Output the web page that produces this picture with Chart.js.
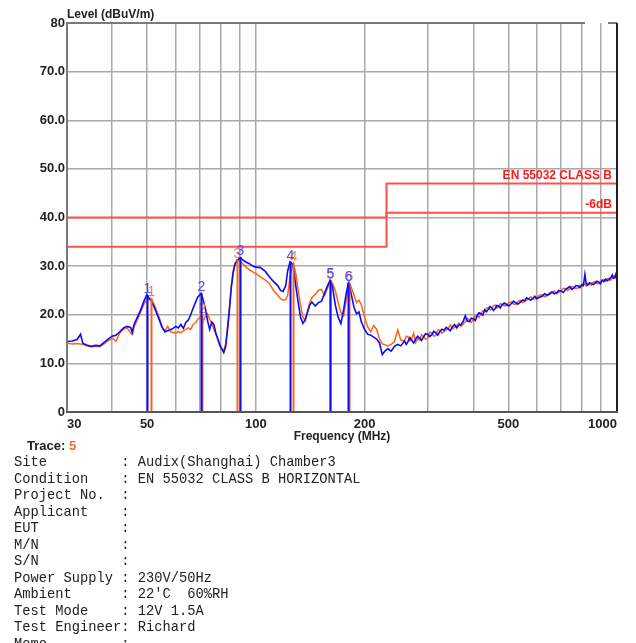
<!DOCTYPE html>
<html>
<head>
<meta charset="utf-8">
<script src="https://cdn.jsdelivr.net/npm/chart.js@4.4.1/dist/chart.umd.min.js"></script>
<style>
  html, body { margin:0; padding:0; background:#fff; }
  #wrap { position:relative; width:636px; height:643px; overflow:hidden; }
  #c { position:absolute; left:0; top:0; }
  #trace { position:absolute; left:27px; top:438px; font:bold 13px "Liberation Sans", Arial, sans-serif; color:#222; line-height:16px; }
  #trace span { color:#ff6a1a; }
  #info { position:absolute; left:14px; top:455px; margin:0; font:13.75px "Liberation Mono", "Courier New", monospace; line-height:16.5px; color:#222; white-space:pre; }
</style>
</head>
<body>
<div id="wrap">
<canvas id="c" width="636" height="455"></canvas>
<div id="trace">Trace: <span>5</span></div>
<pre id="info"></pre>
</div>
<script>
// ---------- data ----------
const freqs = [
  30,31,32,32.7,33.2,34,35,36,37,38,
  39,40,41,42,43,44,45,45.5,46,47,
  48,49,49.9,50.5,51.2,52,53,54,55,56,
  57,58,59,60,61,62,63,64,65,66,
  67,68,69,70.6,71.5,72.5,73.5,74.5,75.5,76.5,
  77.5,78.5,79.5,80.5,81.5,82.5,83.5,84.5,85.5,86.5,
  87.5,88.7,90.4,92,94,96,98,100,103,106,
  109,112,115,117,119,121,122.5,124.4,126,127,
  129,131,133,135,137,139,141,143,146,149,
  152,155,158,160.5,163,166,169,172,175,178,
  180.4,181.6,184,187,190,193,196,200,204,208,
  212,216,220,224,228,232,237,242,247,252,
  258,261,264,267,270,273.5,277,280.5,284,287.5,
  291,295,299,303,307,311,315,319,323,327.5,
  332,336.5,341,345.5,350,355,360,365,370,375,
  380,385,390,395,400,405,410,415,420,425,
  430,435,440,445,450,455,460,465,470,475,
  480,487,495,502,510,517,525,532,540,547,
  555,562,570,577,585,592,600,610,620,630,
  640,650,660,670,680,690,700,710,720,730,
  740,750,760,770,780,790,800,807,815,822,
  830,840,850,860,870,880,890,900,910,920,
  930,940,950,960,970,977,985,992,1000
];
const blueLevel = [
  14.5,14.6,14.9,16.0,14.1,13.8,13.5,13.7,13.6,14.3,
  15.0,15.6,15.8,16.5,17.3,17.6,17.4,16.4,18.0,19.5,
  21.0,22.8,24.1,23.5,22.9,22.0,20.5,19.0,17.4,16.5,
  16.7,16.9,17.2,17.6,17.3,18.0,17.2,18.4,18.9,20.0,
  21.3,22.5,23.6,24.4,23.0,21.2,18.8,17.0,18.5,18.0,
  16.2,15.0,13.8,13.0,12.2,13.5,17.0,21.0,25.5,28.5,
  30.3,31.0,31.8,31.3,30.8,30.5,30.0,29.8,29.7,29.0,
  27.8,26.8,26.0,25.0,24.8,26.0,29.0,30.9,30.5,29.8,
  26.0,22.5,19.5,18.2,19.0,20.5,22.0,22.6,21.8,22.5,
  22.8,24.4,26.0,27.1,25.8,22.0,19.5,18.2,21.0,24.5,
  26.5,26.0,24.0,21.5,20.2,20.6,18.5,17.0,16.0,15.8,
  15.4,15.0,14.2,11.8,12.6,13.0,12.5,13.5,13.9,13.6,
  14.6,13.9,14.5,15.3,14.8,14.2,15.0,15.6,15.2,14.7,
  15.4,16.1,16.0,15.5,15.9,16.6,16.3,15.8,16.5,17.0,
  16.8,17.4,17.1,16.7,17.5,18.0,17.3,17.9,18.0,18.6,
  19.8,18.7,18.6,19.3,19.2,18.8,19.8,20.4,20.2,19.9,
  21.0,20.6,21.1,21.7,21.4,20.9,21.3,21.9,21.8,21.4,
  22.0,22.4,22.1,21.8,22.3,22.8,22.4,22.2,22.6,23.0,
  22.9,23.5,23.2,23.0,23.4,23.8,23.3,23.6,23.8,24.3,
  24.0,24.2,24.7,24.3,24.5,25.0,24.9,24.6,25.2,25.5,
  25.8,25.2,25.5,26.0,25.9,25.6,26.2,26.0,28.3,26.3,
  26.1,26.6,26.4,26.2,26.5,26.9,26.7,26.4,27.1,26.8,
  27.3,27.0,27.2,27.6,28.2,27.5,27.6,28.3,27.4
];
const orangeLevel = [
  14.2,14.0,14.1,14.0,13.9,13.6,13.4,13.5,13.4,14.0,
  14.6,15.2,14.6,16.2,17.0,17.3,16.3,15.9,17.5,19.0,
  20.6,22.2,23.0,23.3,23.4,22.5,21.0,19.5,17.6,16.6,
  17.6,16.5,16.4,16.2,16.6,16.3,16.7,17.0,17.3,17.0,
  18.0,18.3,19.0,19.9,18.7,19.6,20.2,19.0,18.3,17.0,
  16.0,14.8,13.6,12.9,12.6,14.0,17.5,21.5,26.0,29.0,
  30.6,31.3,31.0,30.5,29.8,29.2,28.8,28.5,27.8,27.2,
  26.4,25.0,24.0,23.3,23.0,23.1,24.0,28.0,29.8,30.6,
  28.5,25.0,22.0,19.5,18.8,20.8,22.5,23.5,24.2,25.0,
  25.2,24.0,25.5,27.0,26.5,25.0,22.5,20.5,19.8,23.0,
  26.0,26.6,25.5,24.0,22.5,23.0,22.0,19.5,17.5,16.5,
  17.8,17.0,15.0,14.0,13.8,13.6,13.9,14.5,16.9,14.8,
  14.6,15.6,15.4,14.6,15.0,16.2,14.3,15.1,14.8,15.9,
  15.5,15.0,15.2,16.4,16.3,15.6,15.7,16.9,16.8,16.2,
  16.5,16.9,17.2,17.9,17.1,17.4,17.8,18.3,17.6,18.1,
  18.5,19.3,18.9,18.4,19.0,19.8,19.7,19.4,20.3,20.8,
  20.7,21.3,21.5,21.0,21.2,21.9,22.0,21.4,21.6,22.3,
  22.2,21.8,21.9,22.5,22.6,22.2,22.1,22.8,22.9,22.5,
  22.7,23.0,23.4,23.7,23.2,23.3,23.6,24.0,24.1,23.7,
  23.9,24.5,24.5,24.9,24.3,24.6,25.0,25.4,25.4,25.0,
  25.3,25.8,25.7,25.4,25.5,26.1,25.9,26.4,26.2,25.9,
  26.5,26.2,26.1,26.7,26.8,26.4,26.4,26.9,27.0,27.3,
  26.9,27.4,27.5,27.1,27.7,27.9,28.0,27.6,27.3
];
// limit lines
const limitFreq = [30, 230, 230, 1000];
const limitClassB = [40, 40, 47, 47];
const limitMinus6 = [34, 34, 41, 41];
// markers
const blueMarkerFreq = [49.9, 70.6, 90.4, 124.4, 160.5, 180.4];
const blueMarkerLevel = [24.1, 24.4, 31.8, 30.9, 27.1, 26.5];
const orangeMarkerFreq = [51.2, 71.0, 88.7, 127.0, 160.5, 181.6];
const orangeMarkerLevel = [23.4, 19.9, 31.3, 30.6, 27.0, 26.6];
const markerNames = ['1','2','3','4','5','6'];
// ticks
const gridFreqs = [30,40,50,60,70,80,90,100,200,300,400,500,600,700,800,900,1000];
const labeledFreqs = [30,50,100,200,500,1000];
const yTicks = [0,10,20,30,40,50,60,70,80];

const infoLines = [
  "Site         : Audix(Shanghai) Chamber3",
  "Condition    : EN 55032 CLASS B HORIZONTAL",
  "Project No.  :",
  "Applicant    :",
  "EUT          :",
  "M/N          :",
  "S/N          :",
  "Power Supply : 230V/50Hz",
  "Ambient      : 22'C  60%RH",
  "Test Mode    : 12V 1.5A",
  "Test Engineer: Richard",
  "Memo         :"
];
document.getElementById('info').textContent = infoLines.join('\n');

// ---------- chart ----------
const BLUE = '#0a0aff';
const ORANGE = '#ff6410';
const RED = '#ff5050';
const FONT = '"Liberation Sans", Arial, sans-serif';

const pts = (xs, ys) => xs.map((x, i) => ({x, y: ys[i]}));

const overlay = {
  id: 'overlay',
  afterDatasetsDraw(chart) {
    const {ctx, scales: {x, y}, chartArea: a} = chart;
    ctx.save();
    const y0 = y.getPixelForValue(0);
    const drawMarkers = (fs, ls, lineColor, textColor) => {
      fs.forEach((f, i) => {
        const px = Math.round(x.getPixelForValue(f)) + 0.5;
        const py = y.getPixelForValue(ls[i]);
        ctx.strokeStyle = lineColor;
        ctx.lineWidth = 2;
        ctx.beginPath();
        ctx.moveTo(px, y0);
        ctx.lineTo(px, py);
        ctx.stroke();
        ctx.fillStyle = textColor;
        ctx.font = '14px ' + FONT;
        ctx.textAlign = 'center';
        ctx.textBaseline = 'bottom';
        ctx.fillText(markerNames[i], px, py + 1);
      });
    };
    drawMarkers(orangeMarkerFreq, orangeMarkerLevel, ORANGE, '#ff7a3a');
    drawMarkers(blueMarkerFreq, blueMarkerLevel, BLUE, '#4a4aff');
    // limit labels
    ctx.fillStyle = '#ff1a1a';
    ctx.font = 'bold 12px ' + FONT;
    ctx.textAlign = 'right';
    ctx.textBaseline = 'bottom';
    ctx.fillText('EN 55032 CLASS B', a.right - 5, y.getPixelForValue(limitClassB[3]) - 2);
    ctx.fillText('-6dB', a.right - 5, y.getPixelForValue(limitMinus6[3]) - 2);
    ctx.restore();
  },
  afterDraw(chart) {
    const {ctx, chartArea: a} = chart;
    ctx.save();
    // borders
    ctx.lineWidth = 2;
    ctx.strokeStyle = '#7a7a7a';
    ctx.beginPath();
    ctx.moveTo(a.left, a.bottom); ctx.lineTo(a.left, a.top);
    ctx.lineTo(585, a.top);
    ctx.moveTo(608, a.top); ctx.lineTo(a.right, a.top);
    ctx.stroke();
    ctx.strokeStyle = '#202020';
    ctx.beginPath();
    ctx.moveTo(a.right, a.top); ctx.lineTo(a.right, a.bottom);
    ctx.stroke();
    ctx.strokeStyle = '#555';
    ctx.beginPath();
    ctx.moveTo(a.left - 1, a.bottom); ctx.lineTo(a.right + 1, a.bottom);
    ctx.stroke();
    // titles
    ctx.fillStyle = '#222';
    ctx.font = 'bold 12px ' + FONT;
    ctx.textAlign = 'left';
    ctx.textBaseline = 'middle';
    ctx.fillText('Level (dBuV/m)', a.left, 15);
    ctx.textAlign = 'center';
    ctx.fillText('Frequency (MHz)', (a.left + a.right) / 2, 437);
    ctx.restore();
  }
};

new Chart(document.getElementById('c'), {
  type: 'line',
  data: {
    datasets: [
      { label: 'Horizontal (blue)', data: pts(freqs, blueLevel), borderColor: BLUE, borderWidth: 1.6, pointRadius: 0, tension: 0 },
      { label: 'Horizontal (orange)', data: pts(freqs, orangeLevel), borderColor: ORANGE, borderWidth: 1.5, pointRadius: 0, tension: 0 },
      { label: 'EN 55032 CLASS B', data: pts(limitFreq, limitClassB), borderColor: RED, borderWidth: 2, pointRadius: 0, tension: 0 },
      { label: '-6dB', data: pts(limitFreq, limitMinus6), borderColor: RED, borderWidth: 2, pointRadius: 0, tension: 0 }
    ]
  },
  options: {
    responsive: false,
    animation: false,
    devicePixelRatio: 1,
    layout: { padding: { left: 0, right: 19, top: 23, bottom: 0 } },
    plugins: { legend: { display: false }, tooltip: { enabled: false } },
    scales: {
      x: {
        type: 'logarithmic',
        min: 30, max: 1000,
        afterBuildTicks: s => { s.ticks = gridFreqs.map(v => ({value: v})); },
        afterFit: s => { s.height = 43; },
        border: { display: false },
        grid: { color: c => (c.tick && (c.tick.value === 30 || c.tick.value === 1000)) ? 'rgba(0,0,0,0)' : '#a9a9a9', lineWidth: 1.5, drawTicks: false },
        ticks: {
          autoSkip: false, maxRotation: 0, minRotation: 0, align: 'inner', padding: 5,
          color: '#222', font: { family: FONT, size: 13, weight: 'bold' },
          callback: v => labeledFreqs.includes(v) ? String(v) : ''
        }
      },
      y: {
        min: 0, max: 80,
        afterBuildTicks: s => { s.ticks = yTicks.map(v => ({value: v})); },
        afterFit: s => { s.width = 67; },
        border: { display: false },
        grid: { color: c => (c.tick && (c.tick.value === 0 || c.tick.value === 80)) ? 'rgba(0,0,0,0)' : '#a9a9a9', lineWidth: 1.5, drawTicks: false },
        ticks: {
          padding: 2, color: '#222', font: { family: FONT, size: 13, weight: 'bold' },
          callback: v => (v === 0 || v === 80) ? String(v) : v.toFixed(1)
        }
      }
    }
  },
  plugins: [overlay]
});
</script>
</body>
</html>
